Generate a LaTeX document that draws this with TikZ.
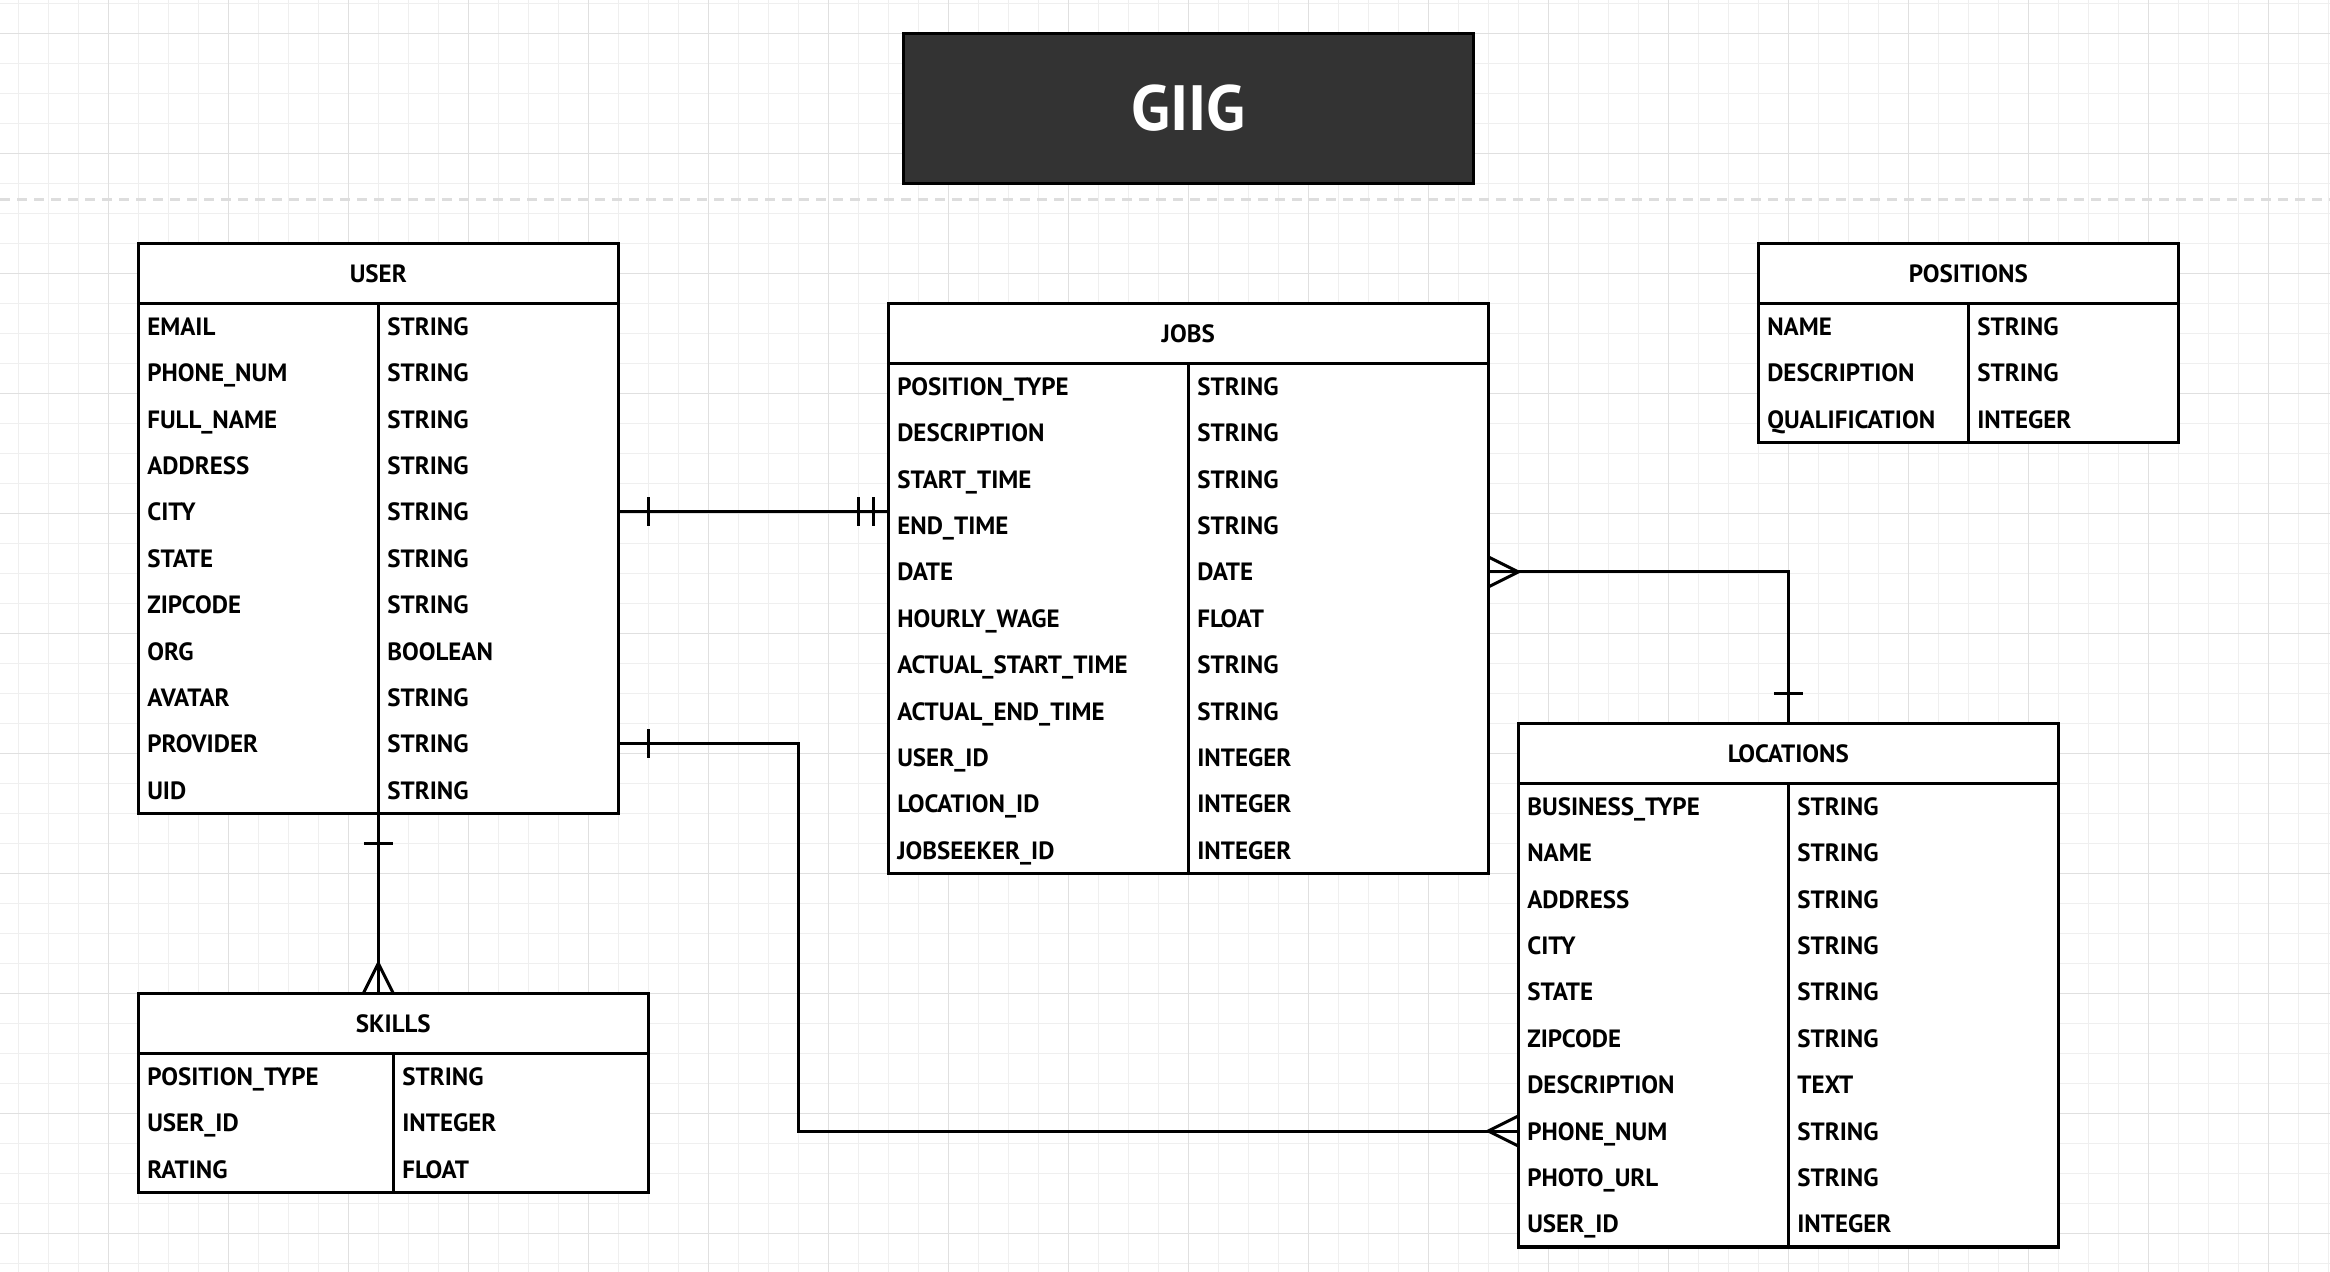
\documentclass[tikz,border=0pt]{standalone}
\usepackage{fontspec}
\setmainfont{PT Sans}
\usepackage{tikz}
\usetikzlibrary{positioning,calc}
\definecolor{gridminor}{HTML}{EFEFEF}
\definecolor{gridmajor}{HTML}{E0E0E0}
\definecolor{titlefill}{HTML}{333333}
\definecolor{sepgray}{HTML}{DDDDDD}
\newcommand{\rowh}{46.36}
% entity: name, north west corner, width, title, number of rows, rows
\newcommand{\erentity}[6]{%
  \node[hdr, minimum width=#3] (#1) at #2 {#4};
  \node[tbl, minimum width=#3, minimum height=#5*\rowh, below=0pt of #1] (#1B) {};
  \draw[tline] (#1B.north) -- (#1B.south);
  \foreach \f/\t [count=\i] in {#6} {
    \node[fld] (#1-f\i) at ($(#1B.north west)+(9,{(\i-0.5)*\rowh})$) {\f};
    \node[fld] (#1-t\i) at ($(#1B.north)+(9,{(\i-0.5)*\rowh})$) {\t};
  }%
}

\begin{document}
\begin{tikzpicture}[
  x=1pt, y=-1pt,
  font=\fontsize{25}{30}\selectfont\bfseries,
  tbl/.style={draw, line width=3.2pt, fill=white, inner sep=0pt, outer sep=0pt},
  hdr/.style={tbl, anchor=north west, minimum height=60, text height=18pt, text depth=0pt},
  fld/.style={anchor=west, inner sep=0pt, outer sep=0pt, text height=18pt, text depth=0pt},
  tline/.style={line width=3.2pt},
  rel/.style={line width=3pt},
  titlebox/.style={draw, line width=3.5pt, fill=titlefill, text=white, minimum width=570,
                   minimum height=150, outer sep=0pt, font=\fontsize{64}{80}\selectfont\bfseries}
]
  \useasboundingbox (0,0) rectangle (2330,1272);
  \fill[white] (0,0) rectangle (2330,1272);
  \begin{scope}
    \clip (0,0) rectangle (2330,1272);
    \draw[gridminor, line width=1.2pt, xshift=18.3pt, yshift=-3.3pt]
      (-60,1320) grid[step=30pt] (2360,-60);
    \draw[gridmajor, line width=1.4pt, xshift=108.3pt, yshift=-33.3pt]
      (-240,1320) grid[step=120pt] (2360,-240);
  \end{scope}
  \draw[sepgray, line width=3pt, dash pattern=on 10pt off 7pt] (0,199) -- (2330,199);

  \node[titlebox] (title) at (1188.3,108.3) {GIIG};

  \erentity{user}{(138.3,243.3)}{480}{USER}{11}{EMAIL/STRING, PHONE\_NUM/STRING,
    FULL\_NAME/STRING, ADDRESS/STRING, CITY/STRING, STATE/STRING, ZIPCODE/STRING,
    ORG/BOOLEAN, AVATAR/STRING, PROVIDER/STRING, UID/STRING}
  \erentity{jobs}{(888.3,303.3)}{600}{JOBS}{11}{POSITION\_TYPE/STRING,
    DESCRIPTION/STRING, START\_TIME/STRING, END\_TIME/STRING, DATE/DATE,
    HOURLY\_WAGE/FLOAT, ACTUAL\_START\_TIME/STRING, ACTUAL\_END\_TIME/STRING,
    USER\_ID/INTEGER, LOCATION\_ID/INTEGER, JOBSEEKER\_ID/INTEGER}
  \erentity{positions}{(1758.3,243.3)}{420}{POSITIONS}{3}{NAME/STRING,
    DESCRIPTION/STRING, QUALIFICATION/INTEGER}
  \erentity{locations}{(1518.3,723.3)}{540}{LOCATIONS}{10}{BUSINESS\_TYPE/STRING,
    NAME/STRING, ADDRESS/STRING, CITY/STRING, STATE/STRING, ZIPCODE/STRING,
    DESCRIPTION/TEXT, PHONE\_NUM/STRING, PHOTO\_URL/STRING, USER\_ID/INTEGER}
  \erentity{skills}{(138.3,993.3)}{510}{SKILLS}{3}{POSITION\_TYPE/STRING,
    USER\_ID/INTEGER, RATING/FLOAT}

  % user -- jobs (one to one)
  \coordinate (uj1) at (user-f5 -| userB.east);
  \coordinate (uj2) at (user-f5 -| jobsB.west);
  \draw[rel] (uj1) -- (uj2);
  \draw[rel] ($(uj1)+(30,-14.5)$) -- ($(uj1)+(30,14.5)$);
  \draw[rel] ($(uj2)+(-30,-14.5)$) -- ($(uj2)+(-30,14.5)$);
  \draw[rel] ($(uj2)+(-15,-14.5)$) -- ($(uj2)+(-15,14.5)$);

  % user -- locations (one to many)
  \coordinate (ul1) at (user-f10 -| userB.east);
  \coordinate (ul2) at (locations-f8 -| locationsB.west);
  \draw[rel] (ul1) -- ++(180,0) |- (ul2);
  \draw[rel] ($(ul1)+(30,-14.5)$) -- ($(ul1)+(30,14.5)$);
  \draw[rel] ($(ul2)+(0,-15)$) -- ($(ul2)+(-30,0)$) -- ($(ul2)+(0,15)$);

  % jobs -- locations (many to one)
  \coordinate (jl1) at (jobs-f5 -| jobsB.east);
  \draw[rel] (jl1) -| (locations.north);
  \draw[rel] ($(jl1)+(0,-15)$) -- ($(jl1)+(30,0)$) -- ($(jl1)+(0,15)$);
  \draw[rel] ($(locations.north)+(-14.5,-30)$) -- ($(locations.north)+(14.5,-30)$);

  % user -- skills (one to many)
  \coordinate (us2) at (userB.south |- skills.north);
  \draw[rel] (userB.south) -- (us2);
  \draw[rel] ($(userB.south)+(-14.5,30)$) -- ($(userB.south)+(14.5,30)$);
  \draw[rel] ($(us2)+(-15,0)$) -- ($(us2)+(0,-30)$) -- ($(us2)+(15,0)$);
\end{tikzpicture}
\end{document}
